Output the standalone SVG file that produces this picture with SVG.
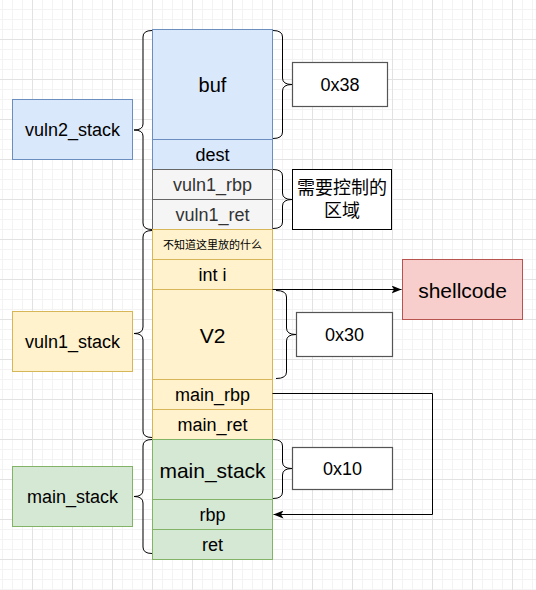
<svg xmlns="http://www.w3.org/2000/svg" width="536" height="590" viewBox="0 0 536 590">
<style>
.t{font-family:"Liberation Sans",Arial,sans-serif;text-anchor:middle;dominant-baseline:central;fill:#000}
.cjk{font-family:"Liberation Sans","Noto Sans CJK SC",sans-serif;text-anchor:middle;dominant-baseline:central;fill:#000}
.blue{fill:#dae8fc;stroke:#6c8ebf}
.gray{fill:#f5f5f5;stroke:#666666}
.yel{fill:#fff2cc;stroke:#d6b656}
.grn{fill:#d5e8d4;stroke:#82b366}
.red{fill:#f8cecc;stroke:#b85450}
.box{fill:#ffffff;stroke:#555555;stroke-width:1.2}
.brace{fill:none;stroke:#000;stroke-width:1}
.edge{fill:none;stroke:#000;stroke-width:1}
</style>
<defs>
<pattern id="grid" x="32" y="-1" width="40" height="40" patternUnits="userSpaceOnUse">
<rect width="40" height="40" fill="#ffffff"/>
<path d="M10.5 0V40M20.5 0V40M30.5 0V40M0 10.5H40M0 20.5H40M0 30.5H40" stroke="#f3f3f3" stroke-width="1"/>
<path d="M0.5 0V40M0 0.5H40" stroke="#e2e2e2" stroke-width="1"/>
</pattern>
<marker id="arr" markerWidth="10" markerHeight="8" refX="10" refY="4" orient="auto" markerUnits="userSpaceOnUse">
<path d="M0,0 L10,4 L0,8 L2.5,4 z" fill="#000"/>
</marker>
</defs>
<rect width="536" height="590" fill="url(#grid)"/>

<g id="buf"><rect class="blue" x="152.5" y="29.5" width="120" height="110"/><text class="t" x="212.5" y="85" font-size="20">buf</text></g>
<g id="dest"><rect class="blue" x="152.5" y="139.5" width="120" height="30"/><text class="t" x="212.5" y="155" font-size="18">dest</text></g>
<g id="vuln1_rbp"><rect class="gray" x="152.5" y="169.5" width="120" height="30"/><text class="t" x="212.5" y="185" font-size="18" style="fill:#333">vuln1_rbp</text></g>
<g id="vuln1_ret"><rect class="gray" x="152.5" y="199.5" width="120" height="30"/><text class="t" x="212.5" y="215" font-size="18" style="fill:#333">vuln1_ret</text></g>
<g id="unknown"><rect class="yel" x="152.5" y="229.5" width="120" height="30"/><text class="cjk" x="212.5" y="244.5" font-size="11">不知道这里放的什么</text></g>
<g id="int_i"><rect class="yel" x="152.5" y="259.5" width="120" height="30"/><text class="t" x="212.5" y="275" font-size="18">int i</text></g>
<g id="v2"><rect class="yel" x="152.5" y="289.5" width="120" height="90"/><text class="t" x="212.5" y="335" font-size="21">V2</text></g>
<g id="main_rbp"><rect class="yel" x="152.5" y="379.5" width="120" height="30"/><text class="t" x="212.5" y="395" font-size="18">main_rbp</text></g>
<g id="main_ret"><rect class="yel" x="152.5" y="409.5" width="120" height="30"/><text class="t" x="212.5" y="425" font-size="18">main_ret</text></g>
<g id="main_stack_cell"><rect class="grn" x="152.5" y="439.5" width="120" height="60"/><text class="t" x="212.5" y="470" font-size="21">main_stack</text></g>
<g id="rbp"><rect class="grn" x="152.5" y="499.5" width="120" height="30"/><text class="t" x="212.5" y="515" font-size="18">rbp</text></g>
<g id="ret"><rect class="grn" x="152.5" y="529.5" width="120" height="30"/><text class="t" x="212.5" y="545" font-size="18">ret</text></g>

<g id="vuln2_stack"><rect class="blue" x="12.5" y="99.5" width="120" height="60"/><text class="t" x="72.5" y="130" font-size="18">vuln2_stack</text></g>
<g id="vuln1_stack"><rect class="yel" x="12.5" y="311.5" width="120" height="60"/><text class="t" x="72.5" y="342" font-size="18">vuln1_stack</text></g>
<g id="main_stack"><rect class="grn" x="12.5" y="466.5" width="120" height="60"/><text class="t" x="72.5" y="497" font-size="18">main_stack</text></g>

<g id="size_0x38"><rect class="box" x="292.5" y="62.5" width="95" height="44"/><text class="t" x="340" y="85" font-size="18">0x38</text></g>
<g id="control_region"><rect x="292.5" y="169.5" width="99" height="60" fill="#fff" stroke="#000"/><text class="cjk" x="342" y="188" font-size="18">需要控制的</text><text class="cjk" x="342" y="211" font-size="18">区域</text></g>
<g id="size_0x30"><rect class="box" x="296.5" y="312.5" width="96" height="44"/><text class="t" x="344.5" y="335" font-size="18">0x30</text></g>
<g id="size_0x10"><rect class="box" x="292.5" y="447.5" width="100" height="42"/><text class="t" x="342.5" y="469" font-size="18">0x10</text></g>
<g id="shellcode"><rect class="red" x="402.5" y="259.5" width="120" height="60"/><text class="t" x="462.5" y="290" font-size="21">shellcode</text></g>

<g id="braces">
<path class="brace" d="M152,30.5 Q143,30.5 143,37 L143,124 Q143,130 134,130 Q143,130 143,136 L143,223 Q143,229.5 152,229.5"/>
<path class="brace" d="M152,230.5 Q143,230.5 143,237 L143,327 Q143,333.5 134,333.5 Q143,333.5 143,340 L143,431 Q143,437.5 152,437.5"/>
<path class="brace" d="M152,439.5 Q143,439.5 143,446 L143,490 Q143,496.5 134,496.5 Q143,496.5 143,503 L143,547 Q143,553.5 152,553.5"/>
<path class="brace" d="M273,30.5 Q282.5,30.5 282.5,37 L282.5,78 Q282.5,84.5 292,84.5 Q282.5,84.5 282.5,91 L282.5,132 Q282.5,138.5 273,138.5"/>
<path class="brace" d="M273,169.5 Q282.5,169.5 282.5,176 L282.5,193 Q282.5,199.5 292,199.5 Q282.5,199.5 282.5,206 L282.5,222 Q282.5,228.5 273,228.5"/>
<path class="brace" d="M276,290.5 Q286.5,290.5 286.5,297 L286.5,328 Q286.5,334.5 296,334.5 Q286.5,334.5 286.5,341 L286.5,372 Q286.5,378.5 276,378.5"/>
<path class="brace" d="M273,439.5 Q282.5,439.5 282.5,446 L282.5,462 Q282.5,468.5 292,468.5 Q282.5,468.5 282.5,475 L282.5,492 Q282.5,498.5 273,498.5"/>
</g>

<g id="connectors">
<path class="edge" d="M272.5,289.5 L401.5,289.5" marker-end="url(#arr)"/>
<path class="edge" d="M272.5,393.5 L432.5,393.5 L432.5,514.5 L273.5,514.5" marker-end="url(#arr)"/>
</g>
</svg>
